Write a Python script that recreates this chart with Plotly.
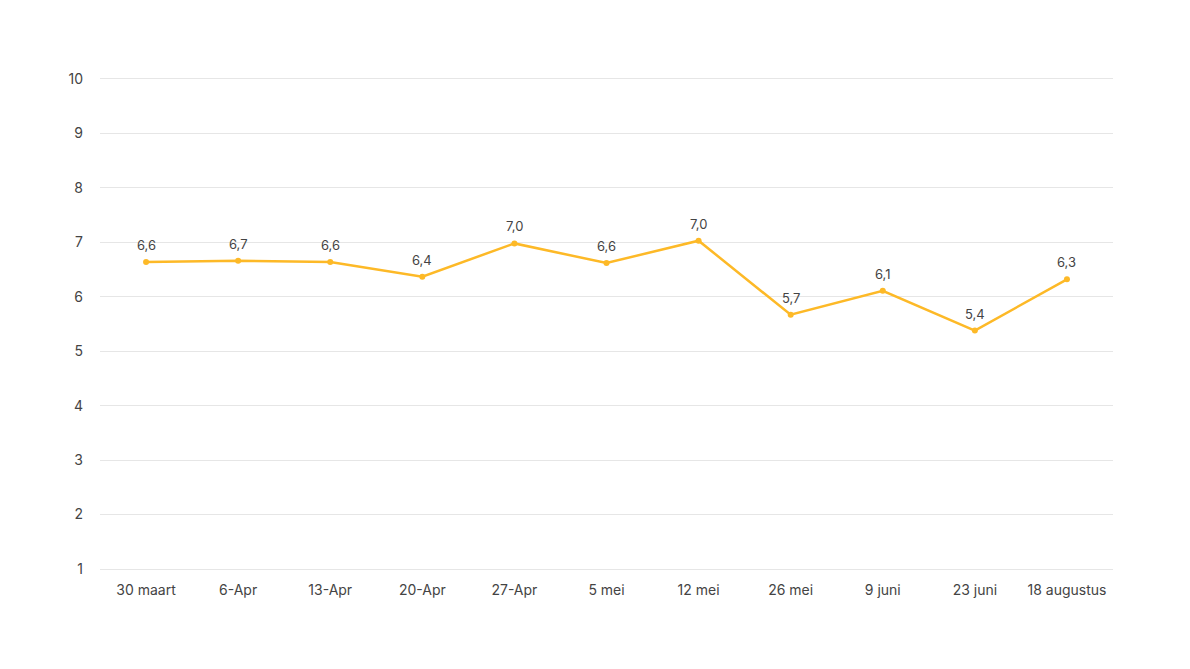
import plotly.graph_objects as go

categories = ["30 maart", "6-Apr", "13-Apr", "20-Apr", "27-Apr", "5 mei",
              "12 mei", "26 mei", "9 juni", "23 juni", "18 augustus"]
values = [6.64, 6.66, 6.64, 6.37, 6.98, 6.62, 7.03, 5.67, 6.11, 5.38, 6.32]
y_ticks = [1, 2, 3, 4, 5, 6, 7, 8, 9, 10]

fig = go.Figure()
fig.add_trace(go.Scatter(
    x=categories, y=values,
    mode="lines+markers",
    line=dict(color="#FDB927", width=2.5),
    marker=dict(color="#FDB927", size=6),
    cliponaxis=False,
    hoverinfo="skip",
))

for c, v in zip(categories, values):
    fig.add_annotation(
        x=c, y=v, text=f"{v:.1f}".replace(".", ","),
        showarrow=False, yshift=17,
        font=dict(family="Inter", size=13, color="#444444"),
    )

fig.update_layout(
    width=1190, height=669,
    margin=dict(l=92, r=85, t=71, b=108),
    paper_bgcolor="white", plot_bgcolor="white",
    separators=",.",
    showlegend=False,
    font=dict(family="Inter", size=14, color="#444444"),
    xaxis=dict(
        type="category", range=[-0.5, 10.5],
        showgrid=False, zeroline=False,
        showline=True, mirror=True, linecolor="#E6E6E6", linewidth=1,
        ticks="", ticklabelstandoff=8,
        tickfont=dict(size=14, color="#444444"),
    ),
    yaxis=dict(
        range=[1, 10], tickvals=y_ticks,
        showgrid=True, gridcolor="#E6E6E6", gridwidth=1,
        zeroline=False, showline=False, ticks="",
        ticklabelstandoff=16,
        tickfont=dict(size=14, color="#444444"),
    ),
)

fig.write_html("out.html")
